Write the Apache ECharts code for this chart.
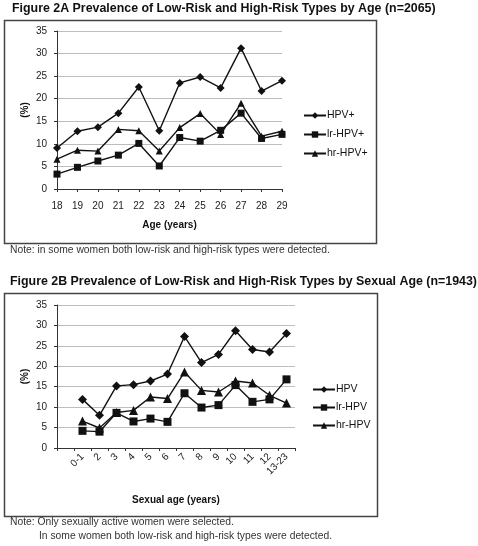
<!DOCTYPE html>
<html>
<head>
<meta charset="utf-8">
<script src="https://cdn.jsdelivr.net/npm/echarts@6/dist/echarts.min.js"></script>
<style>
html,body{margin:0;padding:0;background:#fff;}
#c{width:478px;height:546px;}
</style>
</head>
<body>
<div id="c"></div>
<script>
// ---- Figure 2A data ----
const ageCats = ['18','19','20','21','22','23','24','25','26','27','28','29'];
const hpvA = [9.1, 12.8, 13.7, 16.8, 22.6, 12.9, 23.5, 24.8, 22.4, 31.2, 21.7, 24.0];
const lrA  = [3.3, 4.8, 6.2, 7.5, 10.1, 5.1, 11.4, 10.6, 13.0, 16.8, 11.2, 12.1];
const hrA  = [6.6, 8.6, 8.4, 13.2, 12.9, 8.4, 13.6, 16.7, 12.1, 19.0, 11.7, 12.8];

// ---- Figure 2B data ----
const sexCats = ['', '0-1','2','3','4','5','6','7','8','9','10','11','12','13-23'];
const hpvB = [null, 11.9, 8.0, 15.2, 15.5, 16.4, 18.1, 27.3, 20.9, 22.9, 28.7, 24.1, 23.5, 28.0];
const lrB  = [null, 4.2, 4.0, 8.6, 6.5, 7.2, 6.4, 13.4, 9.9, 10.5, 15.4, 11.3, 11.9, 16.8];
const hrB  = [null, 6.6, 4.9, 8.7, 9.2, 12.5, 12.1, 18.6, 14.1, 13.7, 16.4, 15.9, 12.9, 11.0];

const yTicks = {min: 0, max: 35, interval: 5};

const FONT = '"Liberation Sans", Arial, sans-serif';
const chart = echarts.init(document.getElementById('c'), null, {renderer: 'canvas'});

function yAxis(gridIndex) {
  return {
    type: 'value', gridIndex, min: yTicks.min, max: yTicks.max, interval: yTicks.interval,
    axisLine: {show: true, lineStyle: {color: '#333', width: 1}},
    axisTick: {show: true, length: 3, lineStyle: {color: '#333'}},
    axisLabel: {color: '#222', fontSize: 10, fontFamily: FONT, margin: 10},
    splitLine: {show: true, lineStyle: {color: '#bdbdbd', width: 1}},
    name: '(%)', nameLocation: 'middle', nameGap: 27, nameRotate: 90,
    nameTextStyle: {fontSize: 10, fontWeight: 'bold', color: '#111', fontFamily: FONT}
  };
}
function line(name, data, symbol, size, xi, yi) {
  return {
    type: 'line', name, data, xAxisIndex: xi, yAxisIndex: yi,
    symbol, symbolSize: size, showSymbol: true, connectNulls: false,
    lineStyle: {color: '#111', width: 1.4},
    itemStyle: {color: '#111', borderWidth: 0},
    animation: false
  };
}

chart.setOption({
  animation: false,
  backgroundColor: '#fff',
  title: [
    {text: 'Figure 2A Prevalence of Low-Risk and High-Risk Types by Age (n=2065)', left: 7, top: -2,
     textStyle: {fontSize: 12.4, fontWeight: 'bold', color: '#111', fontFamily: FONT}},
    {text: 'Figure 2B Prevalence of Low-Risk and High-Risk Types by Sexual Age (n=1943)', left: 5, top: 271,
     textStyle: {fontSize: 12.4, fontWeight: 'bold', color: '#111', fontFamily: FONT}}
  ],
  grid: [
    {left: 57, top: 31, width: 225, height: 158},
    {left: 57, top: 305, width: 238, height: 143}
  ],
  xAxis: [
    {type: 'category', gridIndex: 0, data: ageCats, boundaryGap: false,
     name: 'Age (years)', nameLocation: 'middle', nameGap: 31,
     nameTextStyle: {fontSize: 10, fontWeight: 'bold', color: '#111', fontFamily: FONT},
     axisLine: {lineStyle: {color: '#333'}},
     axisTick: {show: true, length: 3, lineStyle: {color: '#333'}},
     axisLabel: {color: '#222', fontSize: 10, fontFamily: FONT, margin: 12}},
    {type: 'category', gridIndex: 1, data: sexCats, boundaryGap: true,
     name: 'Sexual age (years)', nameLocation: 'middle', nameGap: 47,
     nameTextStyle: {fontSize: 10, fontWeight: 'bold', color: '#111', fontFamily: FONT},
     axisLine: {lineStyle: {color: '#333'}},
     axisTick: {show: true, length: 3, lineStyle: {color: '#333'}},
     axisLabel: {color: '#222', fontSize: 10, fontFamily: FONT, rotate: 45, margin: 7, interval: 0}}
  ],
  yAxis: [yAxis(0), yAxis(1)],
  legend: [
    {data: ['HPV+','lr-HPV+','hr-HPV+'], orient: 'vertical', left: 298, top: 105, itemGap: 8,
     itemWidth: 22, itemHeight: 8,
     textStyle: {fontSize: 10.5, color: '#111', fontFamily: FONT, padding: [0,0,0,-4]}},
    {data: ['HPV','lr-HPV','hr-HPV'], orient: 'vertical', left: 307, top: 379, itemGap: 7,
     itemWidth: 22, itemHeight: 8,
     textStyle: {fontSize: 10.5, color: '#111', fontFamily: FONT, padding: [0,0,0,-4]}}
  ],
  series: [
    line('HPV+', hpvA, 'diamond', 8, 0, 0),
    line('lr-HPV+', lrA, 'rect', 7, 0, 0),
    line('hr-HPV+', hrA, 'triangle', 7, 0, 0),
    line('HPV', hpvB, 'diamond', 9, 1, 1),
    line('lr-HPV', lrB, 'rect', 8, 1, 1),
    line('hr-HPV', hrB, 'triangle', 9, 1, 1)
  ],
  graphic: [
    {type: 'rect', shape: {x: 4.5, y: 20.5, width: 372, height: 223}, style: {fill: 'none', stroke: '#444', lineWidth: 1.5}, silent: true, z: -1},
    {type: 'rect', shape: {x: 4.5, y: 293.5, width: 373, height: 223}, style: {fill: 'none', stroke: '#444', lineWidth: 1.5}, silent: true, z: -1},
    {type: 'text', left: 10, top: 245, style: {text: 'Note: in some women both low-risk and high-risk types were detected.', fontSize: 10.3, fill: '#333', fontFamily: FONT}},
    {type: 'text', left: 10, top: 517, style: {text: 'Note: Only sexually active women were selected.', fontSize: 10.3, fill: '#333', fontFamily: FONT}},
    {type: 'text', left: 39, top: 531, style: {text: 'In some women both low-risk and high-risk types were detected.', fontSize: 10.3, fill: '#333', fontFamily: FONT}}
  ]
});
</script>
</body>
</html>
